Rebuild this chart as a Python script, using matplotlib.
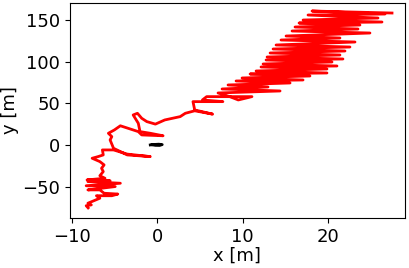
import matplotlib
matplotlib.use("Agg")
import matplotlib.pyplot as plt

# Red trajectory (x, y in metres)
traj_x = [-8.07, -8.3, -7.7, -8.1, -7.4, -6.7, -7.1, -5.3, -4.6, -6.2, -6.7,
          -8.1, -4.9, -8.3, -4.3, -8.1, -5.5, -8.2, -6.1, -6.7,
          -6.3, -6.5, -6.2, -6.7, -7.6, -6.9, -6.3, -6.4, -5.1, -3.5, -0.8, -3.5,
          -5.1, -5.5, -5.3, -5.7, -5.0, -4.3, -2.2, -1.8, 0.7, -0.8, -2.0,
          -2.2, -2.8, -2.3, -1.8, -1.2, -0.2, 0.9, 1.8, 2.7, 3.3, 4.4, 6.5, 4.4,
          4.2, 7.7, 5.3, 5.8, 11.1, 9.5, 8.5,
          7.13, 14.39, 7.60, 12.98, 8.30, 15.56, 9.24, 17.08, 9.94, 17.89,
          10.88, 19.88, 11.58, 19.88, 12.16, 21.05, 12.40, 20.47, 12.75, 21.75,
          12.87, 21.40, 13.22, 21.99, 13.57, 22.57, 13.92, 23.16, 14.50, 21.40,
          15.09, 24.91, 15.79, 23.51, 16.14, 23.74, 16.61, 26.32, 17.08, 25.85,
          17.66, 26.67, 18.13, 27.49]
traj_y = [-75.6, -73, -72, -70, -67, -64, -61, -61, -59, -58, -54,
          -54, -50, -49, -46, -44, -43, -42, -40, -37,
          -32, -28, -24, -20, -16, -14, -12, -6, -6, -11, -14, -12,
          -4, 6, 10, 14, 18, 23, 16, 12, 11, 14, 16,
          26, 36, 38, 32, 28, 25, 30, 32, 34, 38, 41, 37, 42,
          52, 52, 54, 58, 58, 54, 58,
          62.4, 64.8, 67.2, 69.6, 72.0, 74.4, 76.8, 78.0, 80.4, 82.8,
          85.2, 86.4, 88.8, 91.2, 93.6, 94.8, 97.2, 99.6, 102.0, 103.2,
          105.6, 108.0, 110.4, 112.8, 115.2, 117.6, 120.0, 123.6, 126.0, 128.4,
          130.8, 134.4, 136.8, 139.2, 141.6, 144.0, 146.4, 147.6, 150.0, 152.4,
          156.0, 157.2, 160.8, 158.4]

# Short black trajectory near the origin
ref_x = [-0.8, -0.3, 0.2, 0.6, 0.3, -0.2, -0.6]
ref_y = [0.0, 0.6, 0.9, 0.4, -0.6, -0.5, 0.2]

plt.rcParams["font.size"] = 13
fig = plt.figure(figsize=(4.09, 2.68), dpi=100)
ax = fig.add_axes([0.171, 0.187, 0.819, 0.802])
ax.plot(traj_x, traj_y, color="#ff0000", lw=2)
ax.plot(ref_x, ref_y, color="black", lw=2)
ax.set_xlim(-10.2, 29.0)
ax.set_ylim(-87.6, 170.5)
ax.set_xticks([-10, 0, 10, 20])
ax.set_yticks([-50, 0, 50, 100, 150])
ax.set_xlabel("x [m]", labelpad=1)
ax.set_ylabel("y [m]")
ax.yaxis.set_label_coords(-0.152, 0.5)
fig.savefig("out.png", dpi=100)
